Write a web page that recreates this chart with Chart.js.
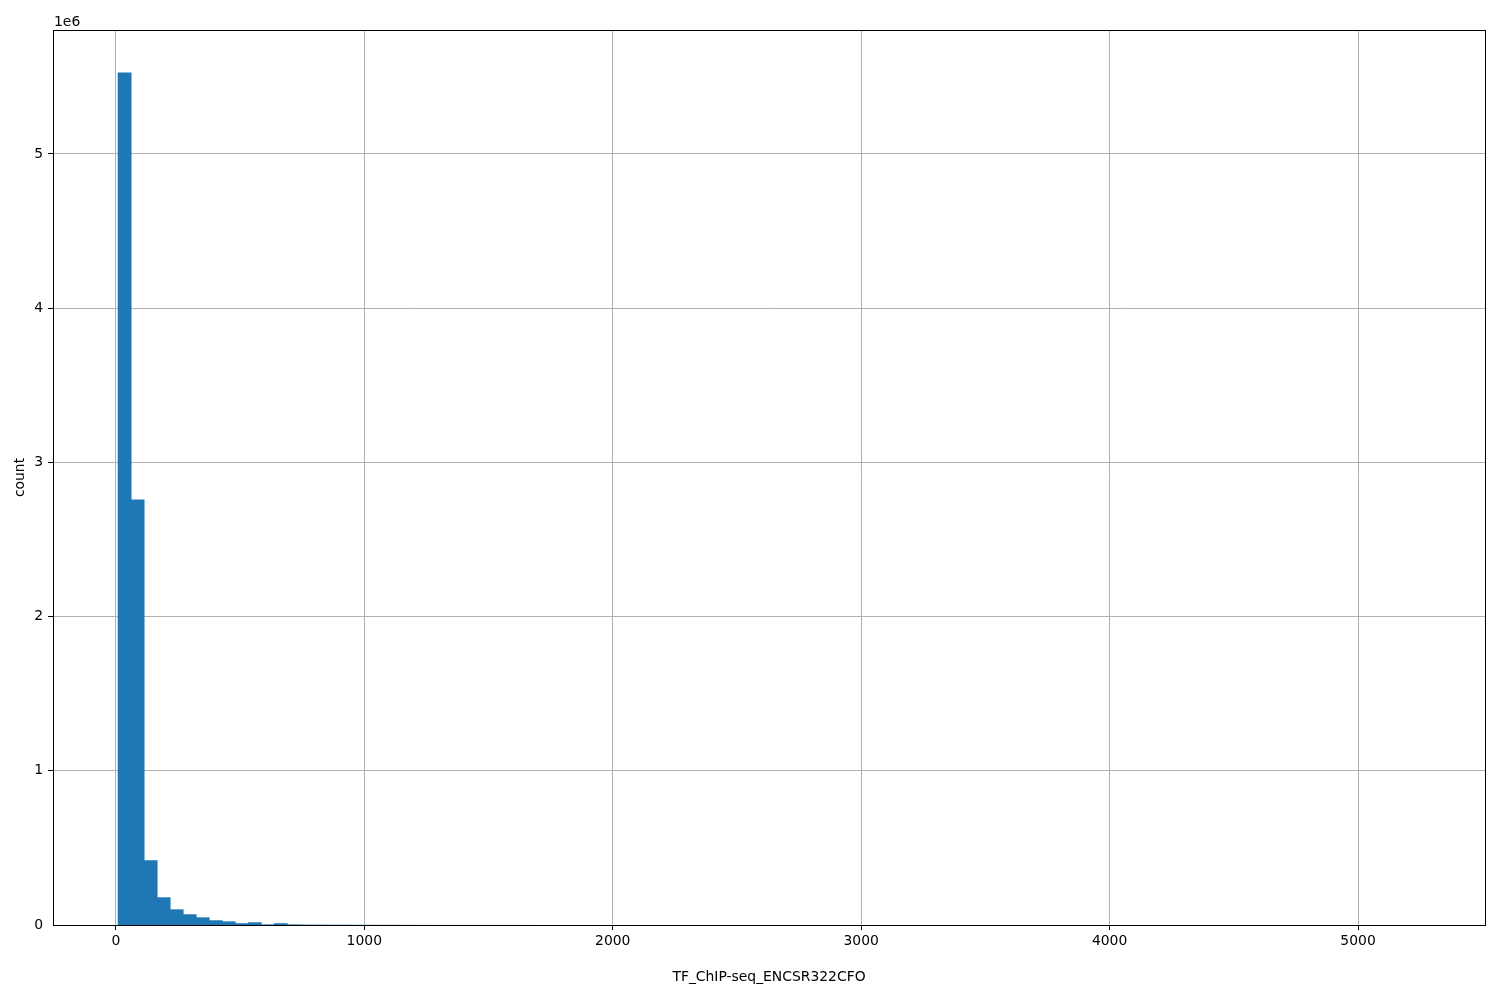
<!DOCTYPE html>
<html>
<head>
<meta charset="utf-8">
<script src="https://cdn.jsdelivr.net/npm/chart.js@4/dist/chart.umd.min.js"></script>
<style>
  html, body { margin: 0; padding: 0; background: #fff; }
  #wrap { width: 1500px; height: 1000px; }
</style>
</head>
<body>
<div id="wrap"><canvas id="hist"></canvas></div>
<script>
// histogram bins (left edge of first bin, width of each bin)
const binStart = 9;
const binWidth = 52.4;
// counts per bin (100 bins)
const counts = [
  5525000, 2756000, 417000, 177000, 99000, 67000, 47000, 28000, 21000, 9000,
  15000, 4000, 9000, 4000, 3000, 2500, 2000, 1800, 1500, 1200,
  1000, 900, 800, 700, 600, 500, 450, 400, 350, 300,
  250, 220, 200, 180, 160, 140, 120, 100, 90, 80,
  70, 60, 50, 45, 40, 35, 30, 28, 25, 22,
  20, 18, 16, 14, 12, 10, 9, 8, 7, 6,
  5, 5, 4, 4, 3, 3, 3, 2, 2, 2,
  2, 1, 1, 1, 1, 1, 1, 1, 0, 1,
  0, 1, 0, 0, 1, 0, 0, 1, 0, 0,
  0, 1, 0, 0, 0, 0, 0, 0, 0, 1
];
const xTicks = [0, 1000, 2000, 3000, 4000, 5000];
const yTicks = [0, 1e6, 2e6, 3e6, 4e6, 5e6];
const xTitle = 'TF_ChIP-seq_ENCSR322CFO';
const yTitle = 'count';

const points = counts.map((c, i) => ({ x: binStart + binWidth * (i + 0.5), y: c }));

const FONT = { family: '"DejaVu Sans", sans-serif', size: 13.9 };

// matplotlib-like box round the axes and the offset text "1e6"
const framePlugin = {
  id: 'frame',
  afterDraw(chart) {
    const { ctx, chartArea: a } = chart;
    ctx.save();
    ctx.strokeStyle = '#000';
    ctx.lineWidth = 1;
    ctx.strokeRect(Math.round(a.left) + 0.5, Math.round(a.top) + 0.5,
      Math.round(a.right - a.left), Math.round(a.bottom - a.top));
    ctx.fillStyle = '#000';
    ctx.font = '13.9px "DejaVu Sans", sans-serif';
    ctx.textAlign = 'left';
    ctx.textBaseline = 'alphabetic';
    ctx.fillText('1e6', a.left + 1, a.top - 4);
    ctx.restore();
  }
};

new Chart(document.getElementById('hist'), {
  type: 'bar',
  data: {
    datasets: [{
      data: points,
      backgroundColor: '#1f77b4',
      borderWidth: 0,
      // close the seams between tall bars, keep sub-pixel bars invisible
      inflateAmount: c => (c.raw && c.raw.y >= 5000 ? 0.4 : 0),
      barPercentage: 1,
      categoryPercentage: 1
    }]
  },
  options: {
    responsive: true,
    maintainAspectRatio: false,
    animation: false,
    layout: { padding: { top: 30, right: 15, left: 0, bottom: 0 } },
    plugins: { legend: { display: false }, tooltip: { enabled: false } },
    scales: {
      x: {
        type: 'linear',
        min: -253,
        max: 5511,
        offset: false,
        afterBuildTicks: s => { s.ticks = xTicks.map(v => ({ value: v })); },
        afterFit: s => { s.height = 75; },
        grid: { offset: false, color: '#b0b0b0', lineWidth: 1, tickColor: '#000', tickLength: 5 },
        border: { display: true, color: '#000', width: 1 },
        ticks: { color: '#000', font: FONT, padding: 3, maxRotation: 0, callback: v => String(v) },
        title: { display: true, text: xTitle, color: '#000', font: FONT, padding: { top: 12, bottom: 14 } }
      },
      y: {
        min: 0,
        max: 5.804e6,
        afterBuildTicks: s => { s.ticks = yTicks.map(v => ({ value: v })); },
        afterFit: s => { s.width = 53; },
        grid: {
          color: '#b0b0b0',
          lineWidth: c => (c.tick && c.tick.value === 0 ? 0 : 1),
          tickColor: '#000',
          tickLength: 5
        },
        border: { display: true, color: '#000', width: 1 },
        ticks: { color: '#000', font: FONT, padding: 5, callback: v => String(v / 1e6) },
        title: { display: true, text: yTitle, color: '#000', font: FONT, padding: { top: 12, bottom: 0 } }
      }
    }
  },
  plugins: [framePlugin]
});
</script>
</body>
</html>
